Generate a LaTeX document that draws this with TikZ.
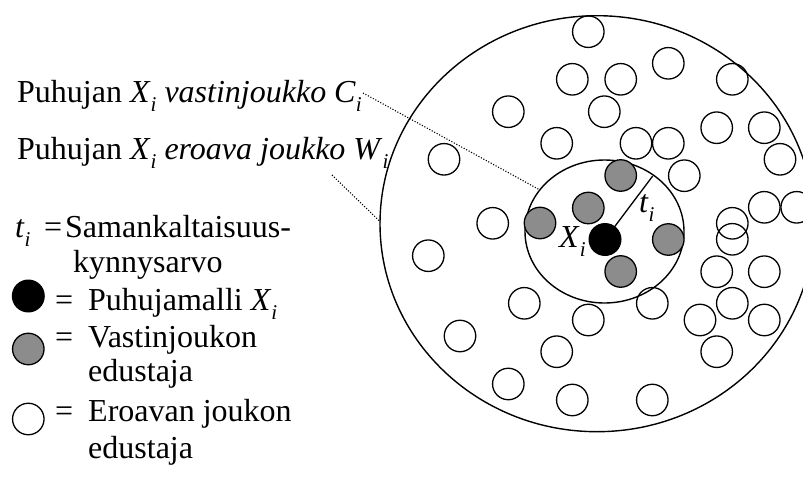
\documentclass[tikz,border=0pt]{standalone}
\usepackage{fontspec}
\setmainfont{Liberation Serif}
% italic letter with a lowered italic subscript i
\newcommand\withsubi[1]{\textit{#1}\raisebox{-9pt}{\fontsize{21}{21}\selectfont\itshape i}}
\definecolor{repgray}{RGB}{140,140,140}
\begin{document}
\begin{tikzpicture}[x=1pt,y=-1pt,
  txt/.style={anchor=base west, inner sep=0pt, font=\fontsize{32}{38}\selectfont},
  ring/.style={draw, line width=1.4pt},
  other/.style={circle, draw, line width=1.3pt, minimum size=31.5pt, inner sep=0pt},
  member/.style={other, fill=repgray},
  model/.style={circle, fill=black, minimum size=33pt, inner sep=0pt},
  leader/.style={line width=1.1pt, dash pattern=on 1.1pt off 1.7pt}]
\useasboundingbox (0,0) rectangle (803,484);
\clip (0,0) rectangle (803,484);

% labels of the two sets
\node[txt] (lblC) at (17,103) {Puhujan \withsubi{X} \textit{vastinjoukko} \withsubi{C}};
\node[txt] (lblW) at (17,160) {Puhujan \withsubi{X} \textit{eroava joukko} \withsubi{W}};

% outer set W_i and inner set C_i
\draw[ring] (597,223.7) ellipse [x radius=217, y radius=208];
\draw[ring] (604.5,231.5) ellipse [x radius=79.5, y radius=71.5];

% representatives of the differing set
\foreach \p [count=\k] in {
  (588.3,31.7),(572.3,79.3),(620.7,79.3),(668.3,63.3),(732.3,79.3),
  (508.3,111.7),(604.3,111.7),(716.7,127.7),(764.3,127.7),(556.7,143.3),
  (636,143.3),(668.3,143.3),(780,159.3),(444,159.3),(684.3,175.7),
  (492.7,223.3),(764.3,207.3),(796.7,207.3),(732.3,223.3),(732.3,239.3),
  (428.3,255.7),(716.7,271.7),(764.3,271.7),(524.3,303.3),(588.3,320),
  (652.3,303.3),(732.3,303.3),(700,320),(764.3,320),(460,336),
  (556.7,351.7),(716.7,351.7),(508.3,384),(572.3,400),(652.3,400)}
  \node[other] (w\k) at \p {};

% threshold radius
\coordinate (rim) at (652.7,176);
\coordinate (xc) at (605,239.5);
\draw[line width=1.3pt] (xc) -- (rim);
\node[model] (x) at (xc) {};

% representatives of the matching set
\node[member] (c1) at (620.7,175.5) {};
\node[member] (c2) at (588.3,208) {};
\node[member] (c3) at (540,223) {};
\node[member] (c4) at (668.3,239.5) {};
\node[member] (c5) at (620.7,271.5) {};

\node[txt] (xlbl) at (559,247) {\withsubi{X}};
\node[txt] (tlbl) at (639,212.5) {\withsubi{t}};

% leader lines
\coordinate (fromC) at (363,93);
\coordinate (toC) at (540,190);
\coordinate (fromW) at (332,175);
\coordinate (toW) at (380.5,222);
\draw[leader] (fromC) -- (toC);
\draw[leader] (fromW) -- (toW);

% legend
\node[txt] (tsym) at (15,237) {\withsubi{t}};
\node[txt] (teq) at (44,237) {=};
\node[txt] (tdef) at (65,237) {Samankaltaisuus-};
\node[txt] (tdef2) at (73,272) {kynnysarvo};

\node[model] (lgx) at (28.3,296) {};
\node[txt] (eq1) at (55,310) {=};
\node[txt] (d1) at (88,310) {Puhujamalli \withsubi{X}};

\node[member] (lgc) at (28.3,349) {};
\node[txt] (eq2) at (55,347.5) {=};
\node[txt] (d2) at (88,347.5) {Vastinjoukon};
\node[txt] (d2b) at (88,381.5) {edustaja};

\node[other] (lgw) at (28.3,419) {};
\node[txt] (eq3) at (55,421.5) {=};
\node[txt] (d3) at (88,421.5) {Eroavan joukon};
\node[txt] (d3b) at (88,458.3) {edustaja};
\end{tikzpicture}
\end{document}
